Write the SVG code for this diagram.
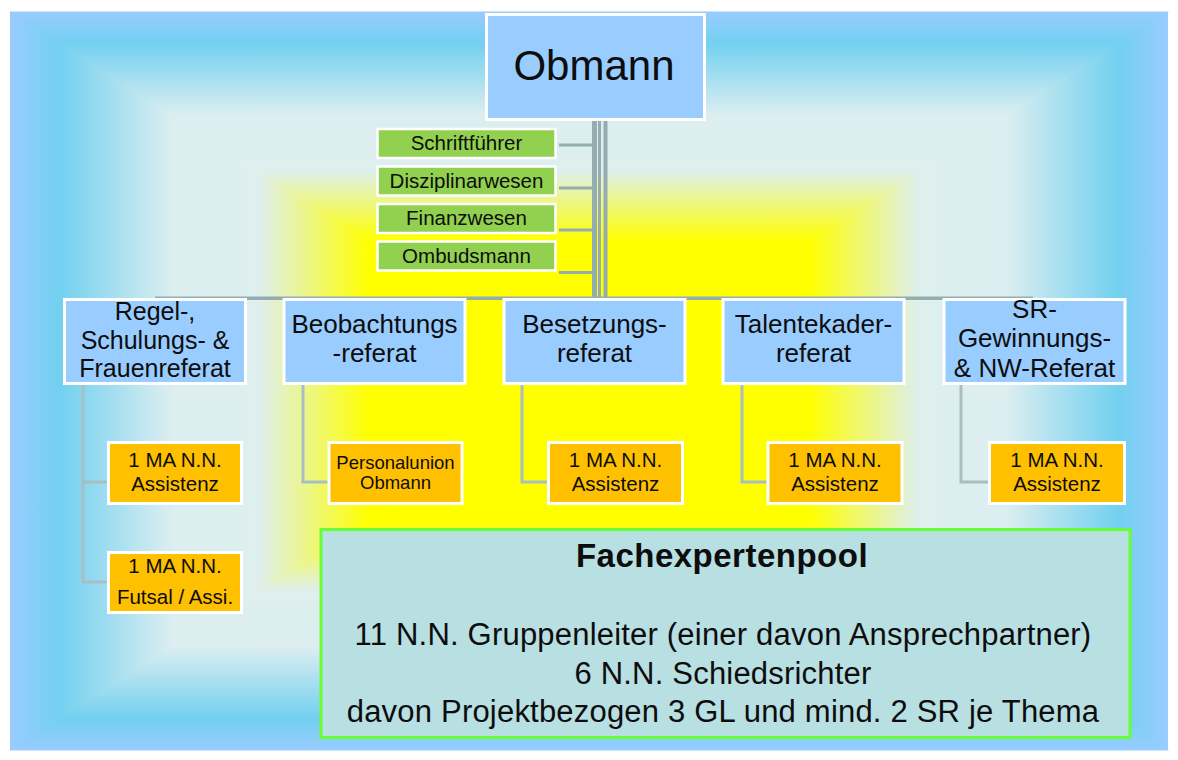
<svg xmlns="http://www.w3.org/2000/svg" width="1178" height="760" viewBox="0 0 1178 760">
<style>
.t{font-family:"Liberation Sans",Arial,sans-serif;fill:#0d0d0d;text-anchor:middle}
.blue{fill:#99CCFF;stroke:#ffffff;stroke-width:3}
.green{fill:#92D050;stroke:#ffffff;stroke-width:2.5}
.orange{fill:#FFC000;stroke:#ffffff;stroke-width:3}
.trunk{stroke:#93ADB1;fill:none}
.sub{stroke:#A7BFC3;stroke-width:3;fill:none}
</style>
<defs>
<linearGradient id="gTop" gradientUnits="userSpaceOnUse" x1="0" y1="12" x2="0" y2="381">
<stop offset="0" stop-color="#99CCFF"/><stop offset="0.085" stop-color="#72D0F0"/><stop offset="0.28" stop-color="#DCEEF0"/><stop offset="0.43" stop-color="#DEEFEE"/><stop offset="0.62" stop-color="#FFFF00"/><stop offset="1" stop-color="#FFFF00"/>
</linearGradient>
<linearGradient id="gBottom" gradientUnits="userSpaceOnUse" x1="0" y1="750" x2="0" y2="381">
<stop offset="0" stop-color="#99CCFF"/><stop offset="0.085" stop-color="#72D0F0"/><stop offset="0.28" stop-color="#DCEEF0"/><stop offset="0.43" stop-color="#DEEFEE"/><stop offset="0.62" stop-color="#FFFF00"/><stop offset="1" stop-color="#FFFF00"/>
</linearGradient>
<linearGradient id="gLeft" gradientUnits="userSpaceOnUse" x1="10" y1="0" x2="589" y2="0">
<stop offset="0" stop-color="#99CCFF"/><stop offset="0.085" stop-color="#72D0F0"/><stop offset="0.28" stop-color="#DCEEF0"/><stop offset="0.43" stop-color="#DEEFEE"/><stop offset="0.62" stop-color="#FFFF00"/><stop offset="1" stop-color="#FFFF00"/>
</linearGradient>
<linearGradient id="gRight" gradientUnits="userSpaceOnUse" x1="1168" y1="0" x2="589" y2="0">
<stop offset="0" stop-color="#99CCFF"/><stop offset="0.085" stop-color="#72D0F0"/><stop offset="0.28" stop-color="#DCEEF0"/><stop offset="0.43" stop-color="#DEEFEE"/><stop offset="0.62" stop-color="#FFFF00"/><stop offset="1" stop-color="#FFFF00"/>
</linearGradient>
</defs>

<g id="background">
<rect x="0" y="0" width="1178" height="760" fill="#ffffff"/>
<polygon points="10,12 589,381 10,750" fill="url(#gLeft)"/>
<polygon points="1168,12 589,381 1168,750" fill="url(#gRight)"/>
<polygon points="10,12 1168,12 589,381" fill="url(#gTop)" stroke="url(#gTop)" stroke-width="1.2" stroke-linejoin="round"/>
<polygon points="10,750 1168,750 589,381" fill="url(#gBottom)" stroke="url(#gBottom)" stroke-width="1.2" stroke-linejoin="round"/>
</g>

<g id="connectors">
<line class="trunk" x1="594.5" y1="121" x2="594.5" y2="298" stroke-width="5"/>
<line class="trunk" x1="599.5" y1="121" x2="599.5" y2="298" stroke-width="3"/>
<line class="trunk" x1="605.5" y1="121" x2="605.5" y2="298" stroke-width="4"/>
<line class="trunk" x1="559" y1="145" x2="593" y2="145" stroke-width="3"/>
<line class="trunk" x1="559" y1="188" x2="593" y2="188" stroke-width="3"/>
<line class="trunk" x1="559" y1="230" x2="593" y2="230" stroke-width="3"/>
<line class="trunk" x1="559" y1="272.5" x2="593" y2="272.5" stroke-width="3"/>
<line class="trunk" x1="155" y1="298.3" x2="1033" y2="298.3" stroke-width="3.5"/>
<polyline class="sub" points="83,385 83,582 108,582"/>
<line class="sub" x1="83" y1="482" x2="108" y2="482"/>
<polyline class="sub" points="303,385 303,482 328,482"/>
<polyline class="sub" points="522,385 522,482 547,482"/>
<polyline class="sub" points="742,385 742,482 767,482"/>
<polyline class="sub" points="961,385 961,482 988,482"/>
</g>

<g id="obmann">
<rect class="blue" x="486.5" y="14.5" width="218" height="105"/>
<text class="t" x="594" y="80" font-size="42">Obmann</text>
</g>

<g id="schriftfuehrer">
<rect class="green" x="377.5" y="129" width="178" height="29"/>
<text class="t" x="466.5" y="149.5" font-size="20.5">Schriftführer</text>
</g>
<g id="disziplinarwesen">
<rect class="green" x="377.5" y="166.5" width="178" height="29"/>
<text class="t" x="466.5" y="187.5" font-size="20.5">Disziplinarwesen</text>
</g>
<g id="finanzwesen">
<rect class="green" x="377.5" y="204" width="178" height="29"/>
<text class="t" x="466.5" y="225" font-size="20.5">Finanzwesen</text>
</g>
<g id="ombudsmann">
<rect class="green" x="377.5" y="241.5" width="178" height="29"/>
<text class="t" x="466.5" y="262.5" font-size="20.5">Ombudsmann</text>
</g>

<g id="regel">
<rect class="blue" x="64.5" y="299.5" width="181" height="84"/>
<text class="t" font-size="25"><tspan x="155" y="320">Regel-,</tspan><tspan x="155" y="348.5">Schulungs- &amp;</tspan><tspan x="155" y="377">Frauenreferat</tspan></text>
</g>
<g id="beobachtung">
<rect class="blue" x="284" y="299.5" width="181" height="84"/>
<text class="t" font-size="26"><tspan x="374.5" y="333">Beobachtungs</tspan><tspan x="374.5" y="362">-referat</tspan></text>
</g>
<g id="besetzung">
<rect class="blue" x="504" y="299.5" width="181" height="84"/>
<text class="t" font-size="26"><tspan x="594.5" y="333">Besetzungs-</tspan><tspan x="594.5" y="361.5">referat</tspan></text>
</g>
<g id="talentekader">
<rect class="blue" x="723" y="299.5" width="181" height="84"/>
<text class="t" font-size="26"><tspan x="813.5" y="333">Talentekader-</tspan><tspan x="813.5" y="361.5">referat</tspan></text>
</g>
<g id="sr-gewinnung">
<rect class="blue" x="944" y="299.5" width="181" height="84"/>
<text class="t" font-size="26"><tspan x="1034.5" y="318">SR-</tspan><tspan x="1034.5" y="347">Gewinnungs-</tspan><tspan x="1034.5" y="377">&amp; NW-Referat</tspan></text>
</g>

<g id="regel-assistenz">
<rect class="orange" x="108.5" y="442.5" width="133" height="61"/>
<text class="t" font-size="20.5"><tspan x="175" y="467">1 MA N.N.</tspan><tspan x="175" y="491">Assistenz</tspan></text>
</g>
<g id="regel-futsal">
<rect class="orange" x="108.5" y="552.5" width="133" height="60"/>
<text class="t" font-size="20.5"><tspan x="175" y="573">1 MA N.N.</tspan><tspan x="175" y="604">Futsal / Assi.</tspan></text>
</g>
<g id="personalunion">
<rect class="orange" x="329" y="442.5" width="133" height="61"/>
<text class="t" font-size="18.5"><tspan x="395.5" y="469">Personalunion</tspan><tspan x="395.5" y="488.5">Obmann</tspan></text>
</g>
<g id="besetzung-assistenz">
<rect class="orange" x="548.5" y="442.5" width="134" height="61"/>
<text class="t" font-size="20.5"><tspan x="615.5" y="467">1 MA N.N.</tspan><tspan x="615.5" y="491">Assistenz</tspan></text>
</g>
<g id="talentekader-assistenz">
<rect class="orange" x="768" y="442.5" width="134" height="61"/>
<text class="t" font-size="20.5"><tspan x="835" y="467">1 MA N.N.</tspan><tspan x="835" y="491">Assistenz</tspan></text>
</g>
<g id="sr-assistenz">
<rect class="orange" x="989.5" y="442.5" width="135" height="61"/>
<text class="t" font-size="20.5"><tspan x="1057" y="467">1 MA N.N.</tspan><tspan x="1057" y="491">Assistenz</tspan></text>
</g>

<g id="fachexpertenpool">
<rect x="321" y="529.5" width="809" height="208" fill="#B8DFE2" stroke="#66FF33" stroke-width="3"/>
<text class="t" x="722" y="567" font-size="33" font-weight="bold" letter-spacing="0.5">Fachexpertenpool</text>
<text class="t" font-size="31" letter-spacing="0.2"><tspan x="723" y="645">11 N.N. Gruppenleiter (einer davon Ansprechpartner)</tspan><tspan x="723" y="683.5">6 N.N. Schiedsrichter</tspan><tspan x="723" y="722">davon Projektbezogen 3 GL und mind. 2 SR je Thema</tspan></text>
</g>
</svg>
